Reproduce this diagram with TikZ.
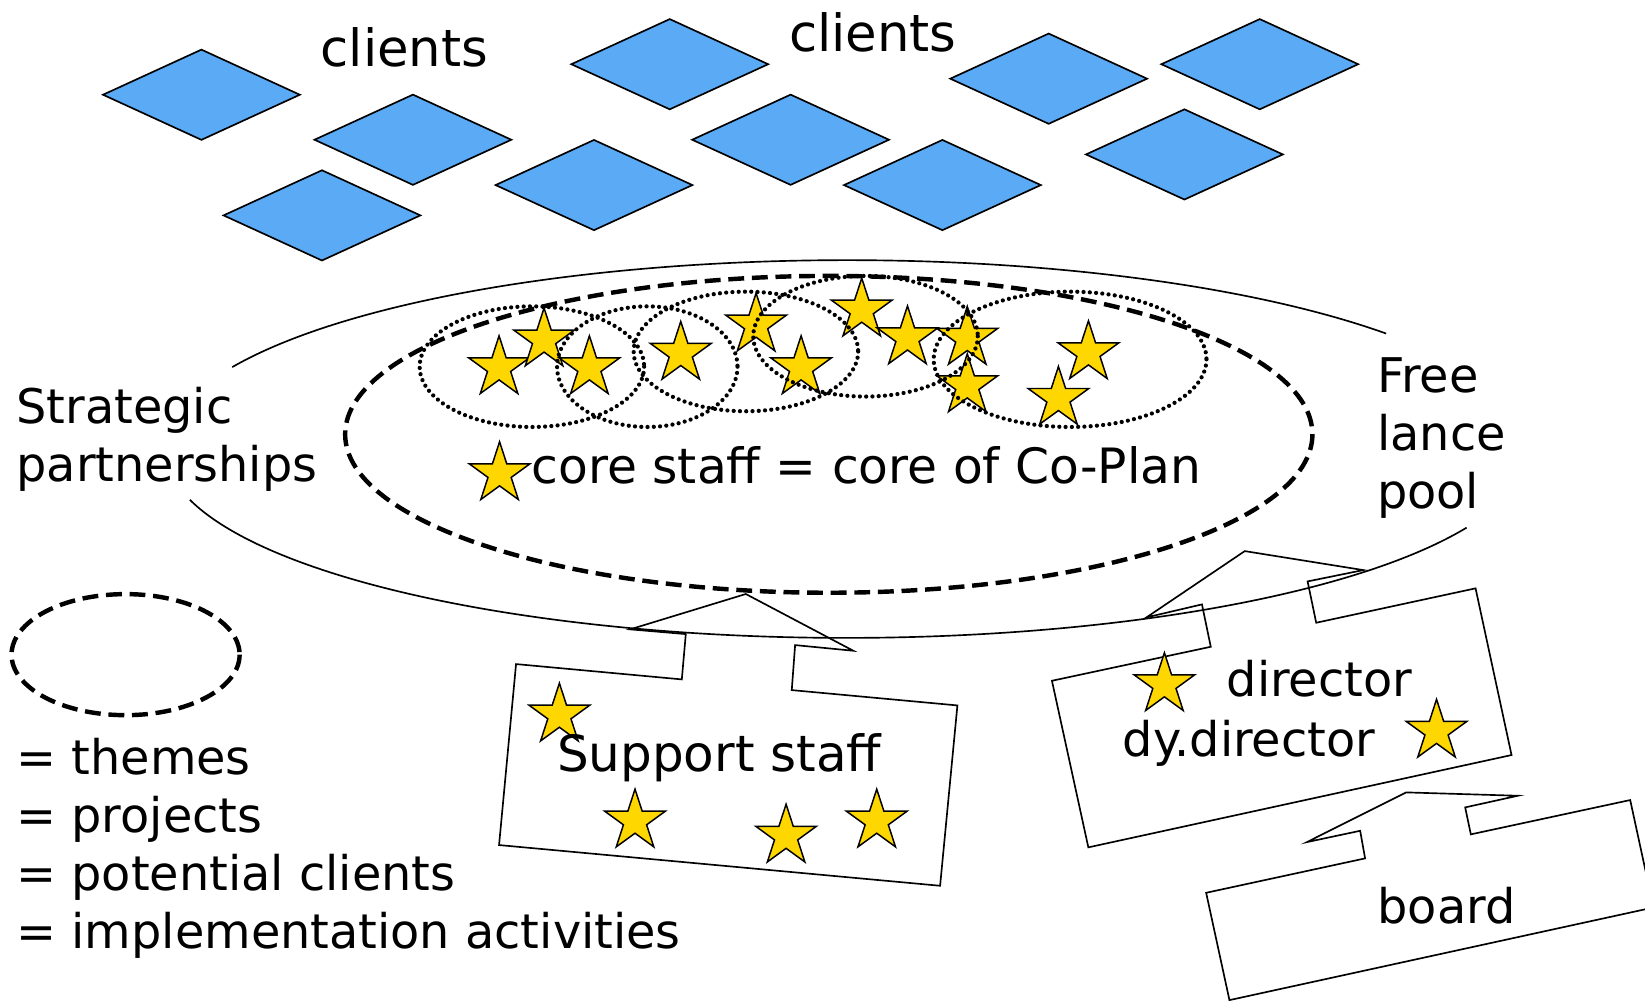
\documentclass[tikz,border=0pt]{standalone}
\usepackage{fontspec}
\setmainfont{DejaVu Sans}
\usepackage{xcolor}
\usetikzlibrary{shapes.geometric}
\definecolor{clientblue}{RGB}{91,170,245}
\definecolor{staryellow}{RGB}{255,215,0}
\tikzset{
  staff/.style={star, star points=5, star point ratio=2.618, minimum size=0.608cm,
    inner sep=0pt, draw=black, line width=0.4pt, fill=staryellow},
  txt/.style={inner sep=0pt, font=\fontsize{12.95pt}{15.73pt}\selectfont},
  bigtxt/.style={inner sep=0pt, font=\fontsize{13.9pt}{16.5pt}\selectfont},
  outline/.style={line width=0.45pt, line join=miter},
  theme/.style={line width=1.2pt, dash pattern=on 4.3pt off 2.1pt},
  project/.style={line width=1.15pt, line cap=round, dash pattern=on 0pt off 1.7pt}
}

\begin{document}
\begin{tikzpicture}[x=0.01cm, y=-0.01cm]
  \useasboundingbox (0,0) rectangle (1568,954);
  \clip (0,0) rectangle (1568,954);

  % Drawing clients
  \foreach \cx/\cy in {192/90.3, 393.6/133.2, 306.9/205.3, 638.4/61.2, 753.6/133.2,
                       566.2/176.4, 898.3/176.4, 999.6/75, 1200.8/61.2, 1129/147.2}
    \draw[outline, fill=clientblue] (\cx-93.8,\cy) -- (\cx,\cy-43) -- (\cx+93.8,\cy) -- (\cx,\cy+43) -- cycle;
  \node[bigtxt, anchor=base] (clientsA) at (385.5,63.6) {clients};
  \node[bigtxt, anchor=base] (clientsB) at (832,49.5) {clients};

  % Drawing strategic partnership ellipse (open at both sides)
  \draw[outline] (807,428) ++(-154.3:650 and 180) arc (-154.3:-37.7:650 and 180);
  \draw[outline] (807,428) ++(164.4:650 and 180) arc (164.4:24.6:650 and 180);

  % Marking core staff
  \foreach \x/\y [count=\i] in {475.7/350.5, 518.6/324, 561.8/350.5, 648.9/336.8,
                                720.7/309.8, 763.6/350.5, 821.4/295.5, 865/322,
                                922/322.5, 922/367.7, 1037.5/336.2, 1008.9/379.7}
    \node[staff] (core\i) at (\x,\y) {};

  % Drawing themes
  \draw[theme] (790,414) ellipse [x radius=461, y radius=151];
  \draw[theme] (119.7,624) ellipse [x radius=108.7, y radius=57.7];

  % Drawing projects
  \draw[project] (507,349.5) ellipse [x radius=107, y radius=57.5];
  \draw[project] (617,349.5) ellipse [x radius=86, y radius=57.5];
  \draw[project] (711,335) ellipse [x radius=107, y radius=57];
  \draw[project] (825,320.5) ellipse [x radius=107, y radius=57.5];
  \draw[project] (1020,342.5) ellipse [x radius=130, y radius=64.5];

  % Marking texts of the ellipse
  \node[staff] (corekey) at (476.2,451.5) {};
  \node[txt, anchor=base] (coretext) at (826,460.6) {\fontsize{13.2pt}{15.73pt}\selectfont core staff = core of Co-Plan};
  % base of a multi-line node is its last line
  \node[txt, anchor=base west, align=left] (strategic) at (15,459) {Strategic\\partnerships};
  \node[txt, anchor=base west, align=left] (freelance) at (1312,484.6) {Free\\lance\\pool};

  % Legend
  \node[txt, anchor=base west, align=left] (legend) at (15,904)
    {= themes\\= projects\\= potential clients\\= implementation activities};

  % Drawing support staff callout
  \draw[outline] (491.9,633) -- (649.9,647.6) -- (653.7,604.4) -- (600.6,599.9)
    -- (710.9,566.2) -- (813.4,620.3) -- (757.9,614.9) -- (754.7,657.8)
    -- (912.6,672.4) -- (896.1,844.3) -- (475.7,805.5) -- cycle;
  \foreach \x/\y [count=\i] in {533.2/681.6, 605.3/782.6, 749.3/797, 835.7/782.6}
    \node[staff] (support\i) at (\x,\y) {};
  \node[txt, anchor=base] (supporttext) at (685.5,735.6) {\fontsize{13.55pt}{16pt}\selectfont Support staff};

  % Drawing director callout
  \draw[outline] (1002.7,648.9) -- (1154.1,616.5) -- (1145.7,576.1) -- (1092.8,588.5)
    -- (1186.5,525.3) -- (1299.5,543.4) -- (1246.4,554.2) -- (1254.6,593.6)
    -- (1406.5,560.8) -- (1440.8,719.7) -- (1037.4,807.7) -- cycle;
  \node[staff] (director1) at (1109.9,652.6) {};
  \node[staff] (director2) at (1369.3,697) {};
  \node[txt, anchor=base] (director) at (1257.7,663.5) {director};
  \node[txt, anchor=base] (dydirector) at (1190.5,720.7) {dy.director};

  % Drawing board callout
  \draw[outline] (1149.7,851) -- (1301.2,818.2) -- (1296.5,791.9) -- (1245.7,802.7)
    -- (1340.3,755.3) -- (1446.8,758.5) -- (1396.6,769.6) -- (1402,795.3)
    -- (1553.9,762.6) -- (1576.1,865) -- (1171.9,953.3) -- cycle;
  \node[txt, anchor=base] (board) at (1378.8,880.2) {board};
\end{tikzpicture}
\end{document}
